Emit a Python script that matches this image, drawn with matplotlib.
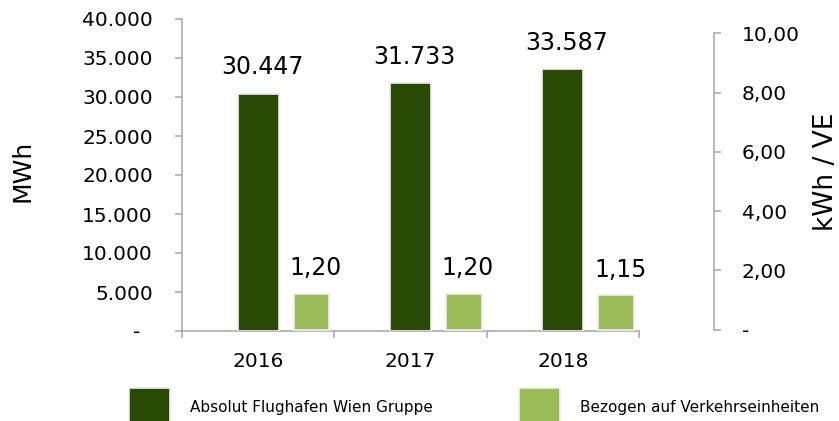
import matplotlib.pyplot as plt
import numpy as np

years = ['2016', '2017', '2018']
absolut_mwh = [30447, 31733, 33587]
bezogen_kwh_ve = [1.20, 1.20, 1.15]
left_ticks = [0, 5000, 10000, 15000, 20000, 25000, 30000, 35000, 40000]
right_ticks = [0, 2, 4, 6, 8, 10]

DARK = '#294a05'
LIGHT = '#9bbb59'
GRAY = '#a6a6a6'

W, H = 839, 421
fig = plt.figure(figsize=(W / 100, H / 100), dpi=100)

# axes box in pixel coords: left spine x=182, x axis ends 639, y from 331 up to 19
ax = fig.add_axes([182 / W, (H - 331) / H, (639 - 182) / W, (331 - 19) / H])
ax2 = ax.twinx()

x = np.arange(len(years))
ax.bar(x, absolut_mwh, width=0.27, color=DARK, edgecolor='#eeeeee', linewidth=1.2,
       label='Absolut Flughafen Wien Gruppe', zorder=3)
ax2.bar(x + 0.35, bezogen_kwh_ve, width=0.236, color=LIGHT, edgecolor='#eeeeee', linewidth=1.2,
        label='Bezogen auf Verkehrseinheiten', zorder=3)

def de_int(v):
    return f'{v:,.0f}'.replace(',', '.')

def de_dec(v):
    return f'{v:.2f}'.replace('.', ',')

for xi, v in zip(x, absolut_mwh):
    ax.annotate(de_int(v), (xi, v), xytext=(3, 19), textcoords='offset points',
                ha='center', va='center', fontsize=17)
for xi, v in zip(x, bezogen_kwh_ve):
    ax2.annotate(de_dec(v), (xi + 0.35, v), xytext=(3, 18.5), textcoords='offset points',
                 ha='center', va='center', fontsize=17)

# left axis
ax.set_xlim(-0.5, 2.5)
ax.set_ylim(0, 40000)
ax.set_yticks(left_ticks)
ax.set_yticklabels(['-  '] + [de_int(t) for t in left_ticks[1:]])
ax.tick_params(axis='y', direction='out', length=5, width=1.1, color=GRAY, pad=16, labelsize=14.5)
ax.set_xticks([-0.5, 0.5, 1.5, 2.5])
ax.set_xticklabels([])
ax.set_xticks(x, minor=True)
ax.set_xticklabels(years, minor=True)
ax.tick_params(axis='x', which='major', direction='out', length=5, width=1.1, color=GRAY)
ax.tick_params(axis='x', which='minor', length=0, pad=15, labelsize=14.5)
for s in ['top', 'right']:
    ax.spines[s].set_visible(False)
for s in ['left', 'bottom']:
    ax.spines[s].set_color(GRAY)
    ax.spines[s].set_linewidth(1.1)

# right axis: 0 at y=329.5, 10 at y=33.5 -> 29.6 px per unit
ppu = 29.6
ax2.set_ylim(-(331 - 329.5) / ppu, (329.5 - 19) / ppu)
ax2.set_yticks(right_ticks)
ax2.set_yticklabels(['-'] + [de_dec(t) for t in right_ticks[1:]])
ax2.tick_params(axis='y', direction='out', length=5, width=1.1, color=GRAY, pad=15, labelsize=14.5)
for s in ['top', 'left', 'bottom']:
    ax2.spines[s].set_visible(False)
ax2.spines['right'].set_position(('outward', 54))
ax2.spines['right'].set_bounds(0, 10)
ax2.spines['right'].set_color(GRAY)
ax2.spines['right'].set_linewidth(1.1)

fig.text(22 / W, 1 - 171 / H, 'MWh', rotation=90, ha='center', va='center', fontsize=18)
fig.text(826 / W, 1 - 171.5 / H, 'kWh / VE', rotation=90, ha='center', va='center', fontsize=19)

h1, l1 = ax.get_legend_handles_labels()
h2, l2 = ax2.get_legend_handles_labels()
fig.legend(h1 + h2, l1 + l2, loc='upper left', bbox_to_anchor=(129 / W, 1 - 388 / H),
           ncol=2, frameon=False, fontsize=11, handlelength=2.7, handleheight=3.6,
           handletextpad=1.3, columnspacing=5.6, borderpad=0, borderaxespad=0)

fig.savefig('out.png', dpi=100)
